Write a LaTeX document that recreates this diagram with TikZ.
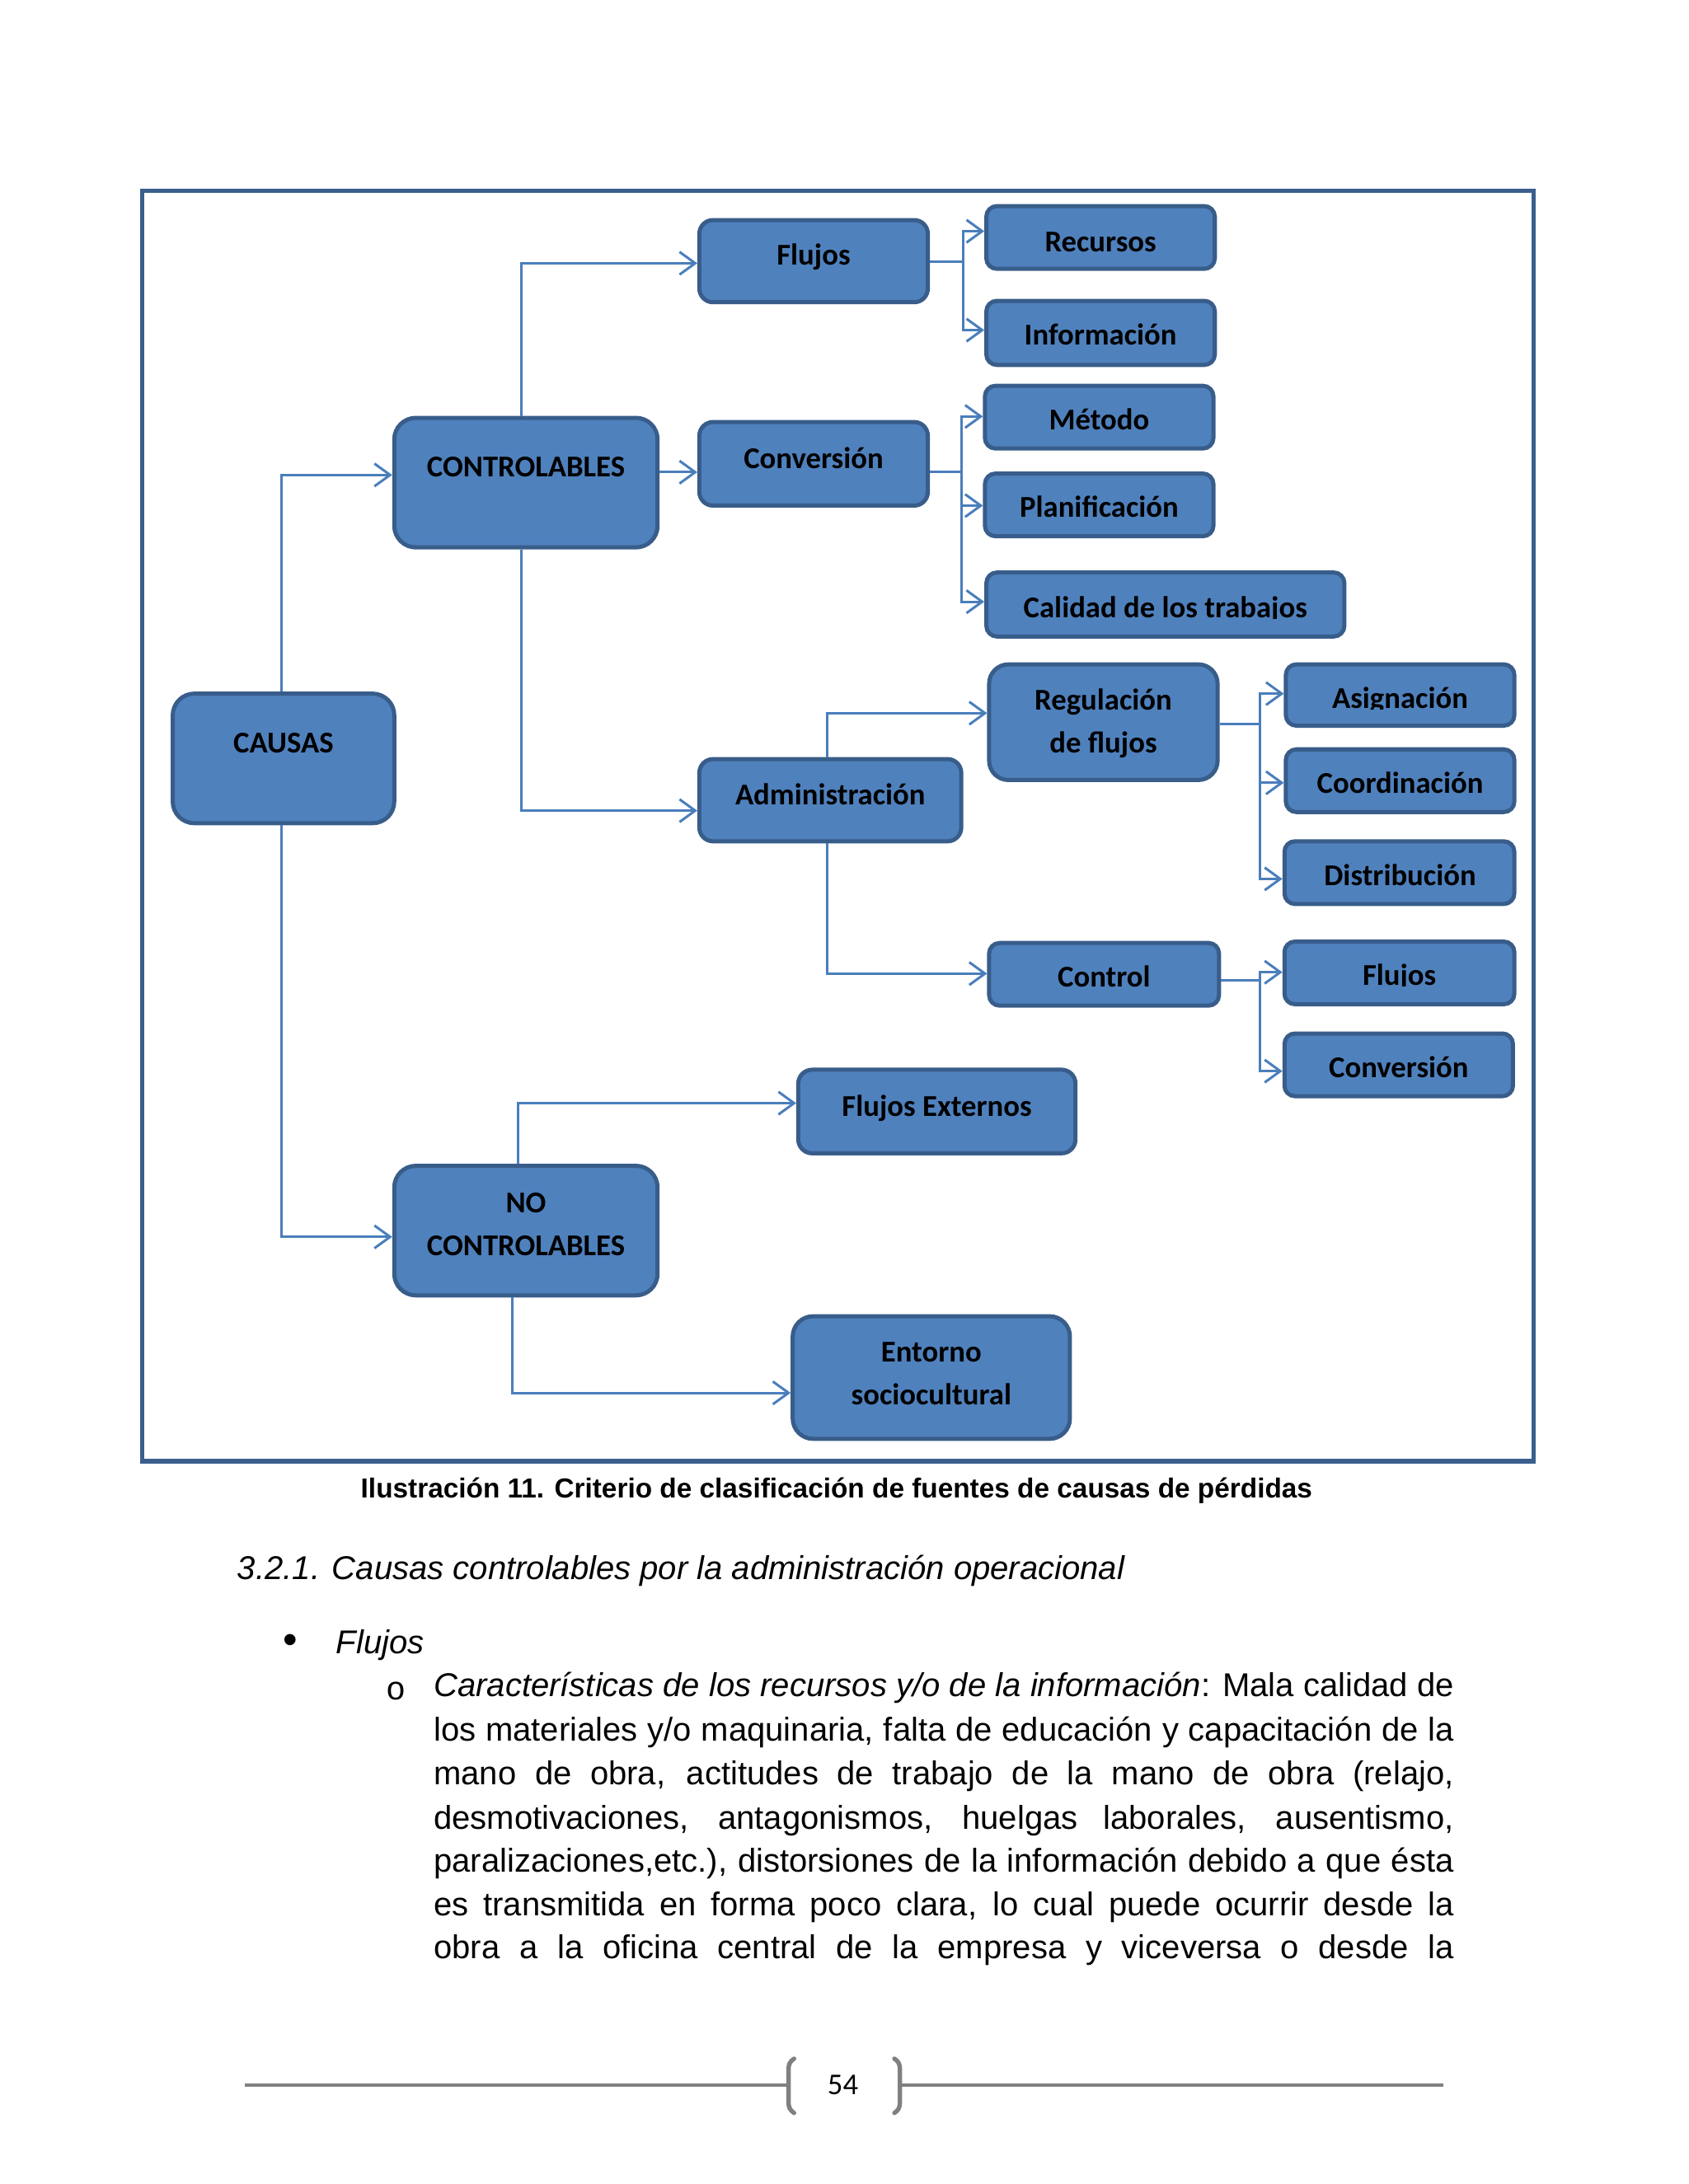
\documentclass[tikz,border=0pt]{standalone}
\usepackage{fontspec}
\setmainfont{Liberation Sans}
\newfontfamily\calfont{Carlito}
\newfontfamily\monofont{Liberation Mono}
\usetikzlibrary{arrows.meta,fit}
\definecolor{boxfill}{HTML}{4F81BD}
\definecolor{boxline}{HTML}{385D8A}
\definecolor{connc}{HTML}{4A7EBB}
\definecolor{framec}{HTML}{3A5F8D}
\definecolor{footc}{HTML}{808080}
\newcommand\mkbox[6]{\node[boxst,rounded corners=#6mm,fit={(#2,#3)(#4,#5)}] (#1) {};}
\begin{document}
\begin{tikzpicture}[x=0.017813cm,y=-0.017813cm,
 boxst/.style={draw=boxline,fill=boxfill,line width=1.5pt,inner sep=0pt},
 lbl/.style={font=\calfont\bfseries\fontsize{11}{15.7}\selectfont,align=center,text height=6.6pt,text depth=0pt,inner sep=0pt},
 conn/.style={draw=connc,line width=0.9pt,-{Straight Barb[length=2mm,width=2.9mm]}},
 body/.style={font=\fontsize{12}{14}\selectfont,anchor=west,inner sep=0pt,text height=6.2pt,text depth=0pt},
 frame/.style={draw=framec,line width=1.6pt},
 foot/.style={draw=footc,line width=1pt},
 bracket/.style={draw=footc,line width=1.6pt,line cap=round},
]
\useasboundingbox[fill=white] (0,0) rectangle (1212,1568);

% frame
\draw[frame] (102,137) rectangle (1101,1049);

% boxes
\mkbox{causas}{124}{498}{283}{591}{2.76}
\mkbox{ctrl}{283}{300}{472}{393}{2.76}
\mkbox{noctrl}{283}{837}{472}{930}{2.76}
\mkbox{flujos}{502}{158}{666}{217}{1.75}
\mkbox{conv}{502}{303}{666}{363}{1.75}
\mkbox{adm}{502}{545}{690}{604}{1.75}
\mkbox{rec}{708}{148}{872}{193}{1.34}
\mkbox{info}{708}{216}{872}{262}{1.34}
\mkbox{met}{707}{277}{871}{322}{1.34}
\mkbox{plan}{707}{340}{871}{385}{1.34}
\mkbox{cal}{708}{411}{965}{457}{1.37}
\mkbox{reg}{710}{477}{874}{560}{2.46}
\mkbox{ctl}{710}{677}{875}{722}{1.34}
\mkbox{asig}{923}{477}{1087}{521}{1.34}
\mkbox{coord}{923}{538}{1087}{583}{1.34}
\mkbox{dist}{922}{604}{1087}{649}{1.34}
\mkbox{fl2}{922}{676}{1087}{721}{1.34}
\mkbox{conv2}{922}{742}{1086}{787}{1.34}
\mkbox{fext}{573}{768}{772}{828}{1.78}
\mkbox{ent}{569}{945}{768}{1033}{2.6}

% labels
\node[lbl] at (203.5,534) {CAUSAS};
\node[lbl] at (377.5,336) {CONTROLABLES};
\node[lbl] at (377.5,895) {NO\\CONTROLABLES};
\node[lbl] at (584,184) {Flujos};
\node[lbl] at (584,330) {Conversión};
\node[lbl] at (596,571) {Administración};
\node[lbl] at (790,174) {Recursos};
\node[lbl] at (790,241) {Información};
\node[lbl] at (789,302) {Método};
\node[lbl] at (789,365) {Planificación};
\begin{scope}
\clip (708,411) rectangle (965,444);
\node[lbl] at (836.5,437) {Calidad de los trabajos};
\end{scope}
\node[lbl] at (792,534) {Regulación\\de flujos};
\node[lbl] at (792.5,702) {Control};
\begin{scope}
\clip (923,477) rectangle (1087,509);
\node[lbl] at (1005,502) {Asignación};
\end{scope}
\node[lbl] at (1005,563) {Coordinación};
\node[lbl] at (1005,629) {Distribución};
\begin{scope}
\clip (922,676) rectangle (1087,708);
\node[lbl] at (1004.5,701) {Flujos};
\end{scope}
\node[lbl] at (1004,767) {Conversión};
\node[lbl] at (672.5,795) {Flujos Externos};
\node[lbl] at (668.5,1002) {Entorno\\sociocultural};

% connectors
\draw[conn] (causas.north -| 202,0) |- (ctrl.west |- 0,341);
\draw[conn] (causas.south -| 202,0) |- (noctrl.west |- 0,888);
\draw[conn] (ctrl.north -| 374,0) |- (flujos.west |- 0,189);
\draw[conn] (ctrl.east |- 0,339) -- (conv.west |- 0,339);
\draw[conn] (ctrl.south -| 374,0) |- (adm.west |- 0,582);
\draw[conn] (flujos.east |- 0,188) -- ++(24,0) |- (rec.west |- 0,166);
\draw[conn] (flujos.east |- 0,188) -- ++(24,0) |- (info.west |- 0,237);
\draw[conn] (conv.east |- 0,339) -- ++(23,0) |- (met.west |- 0,299);
\draw[conn] (conv.east |- 0,339) -- ++(23,0) |- (plan.west |- 0,363);
\draw[conn] (conv.east |- 0,339) -- ++(23,0) |- (cal.west |- 0,432);
\draw[conn] (adm.north -| 594,0) |- (reg.west |- 0,512);
\draw[conn] (adm.south -| 594,0) |- (ctl.west |- 0,699);
\draw[conn] (reg.east |- 0,520) -- ++(29,0) |- (asig.west |- 0,498);
\draw[conn] (reg.east |- 0,520) -- ++(29,0) |- (coord.west |- 0,562);
\draw[conn] (reg.east |- 0,520) -- ++(29,0) |- (dist.west |- 0,631);
\draw[conn] (ctl.east |- 0,704) -- ++(28,0) |- (fl2.west |- 0,698);
\draw[conn] (ctl.east |- 0,704) -- ++(28,0) |- (conv2.west |- 0,769);
\draw[conn] (noctrl.north -| 372,0) |- (fext.west |- 0,792);
\draw[conn] (noctrl.south -| 368,0) |- (ent.west |- 0,1000);

% caption and text
\node[font=\bfseries\fontsize{10}{12}\selectfont,inner sep=0pt,text height=5.2pt,text depth=0pt] (cap) at (600.5,1070) {Ilustración 11. Criterio de clasificación de fuentes de causas de pérdidas};
\node[body] (head) at (170,1128) {\itshape 3.2.1. Causas controlables por la administración operacional};
\node[body,font=\fontsize{15}{16}\selectfont] (bul1) at (203,1181) {•};
\node[body] (flj) at (241,1181) {\itshape Flujos};
\node[body,font=\monofont\fontsize{12}{14}\selectfont] (bul2) at (277,1214) {o};
\node[body] (l1) at (311,1212) {\makebox[13.039cm][s]{\textit{Características de los recursos y/o de la información}: Mala calidad de}};
\node[body] (l2) at (311,1244) {\makebox[13.039cm][s]{los materiales y/o maquinaria, falta de educación y capacitación de la}};
\node[body] (l3) at (311,1275) {\makebox[13.039cm][s]{mano de obra, actitudes de trabajo de la mano de obra (relajo,}};
\node[body] (l4) at (311,1307) {\makebox[13.039cm][s]{desmotivaciones, antagonismos, huelgas laborales, ausentismo,}};
\node[body] (l5) at (311,1338) {\makebox[13.039cm][s]{paralizaciones,etc.), distorsiones de la información debido a que ésta}};
\node[body] (l6) at (311,1369) {\makebox[13.039cm][s]{es transmitida en forma poco clara, lo cual puede ocurrir desde la}};
\node[body] (l7) at (311,1400) {\makebox[13.039cm][s]{obra a la oficina central de la empresa y viceversa o desde la}};

% footer
\draw[foot] (176,1497) -- (566,1497);
\draw[foot] (645,1497) -- (1036,1497);
\draw[bracket] (570,1478) .. controls (567,1480) and (566,1482) .. (566,1486) -- (566,1509) .. controls (566,1513) and (567,1515) .. (570,1517);
\draw[bracket] (642,1478) .. controls (645,1480) and (646,1482) .. (646,1486) -- (646,1509) .. controls (646,1513) and (645,1515) .. (642,1517);
\node[font=\calfont\fontsize{11}{13}\selectfont,inner sep=0pt] (pg) at (605,1497) {54};
\end{tikzpicture}
\end{document}
